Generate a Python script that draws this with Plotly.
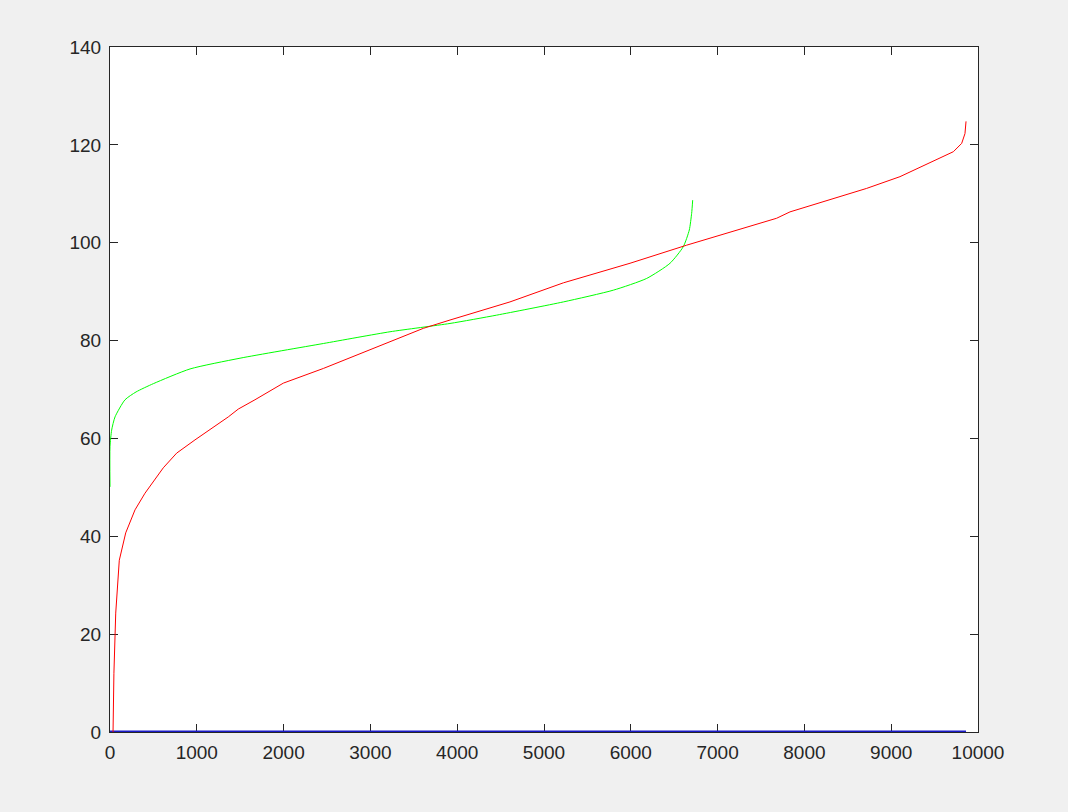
import plotly.graph_objects as go

# red series
RED_X = [35, 45, 66, 107, 181, 288, 403, 614, 768, 979, 1363, 1478, 1670, 1997,
         2458, 3034, 3610, 3917, 4608, 5223, 5991, 6644, 6797, 7181, 7680, 7834,
         8333, 8717, 9101, 9485, 9716, 9812, 9850, 9862]
RED_Y = [0, 12, 24.3, 35.1, 40.7, 45.4, 48.8, 54, 57, 59.7, 64.4, 66.0, 67.9, 71.3,
         74.3, 78.4, 82.5, 84.2, 87.9, 91.8, 95.8, 99.5, 100.3, 102.3, 105.0, 106.3,
         109.1, 111.1, 113.5, 116.6, 118.6, 120.3, 122.3, 124.8]

# green series
GREEN_X = [0, 0, 19, 58, 173, 300, 500, 922, 1498, 2458, 3226, 3917, 4455, 5223,
           5799, 6183, 6452, 6605, 6674, 6701, 6713]
GREEN_Y = [50.1, 58.3, 61.7, 64.4, 67.9, 69.5, 71.2, 74.2, 76.4, 79.4, 81.8, 83.5,
           85.2, 87.9, 90.3, 92.7, 95.8, 99.2, 102.6, 106, 108.7]

# blue baseline
BLUE_X = [0, 9862]
BLUE_Y = [0, 0]

X_TICKS = list(range(0, 10001, 1000))
X_LABELS = [str(v) for v in X_TICKS]
Y_TICKS = list(range(0, 141, 20))

AXIS = dict(
    showline=True, linecolor="#262626", linewidth=1, mirror="ticks",
    ticks="inside", ticklen=8, tickcolor="#262626",
    showgrid=False, zeroline=False, layer="below traces",
    tickfont=dict(family="Liberation Sans", size=19, color="#262626"),
)

fig = go.Figure()
fig.add_trace(go.Scatter(x=BLUE_X, y=BLUE_Y, mode="lines",
                         line=dict(color="#1a1ac8", width=3)))
fig.add_trace(go.Scatter(x=GREEN_X, y=GREEN_Y, mode="lines",
                         line=dict(color="#00ff00", width=1, shape="spline", smoothing=0.6)))
fig.add_trace(go.Scatter(x=RED_X, y=RED_Y, mode="lines",
                         line=dict(color="#ff0000", width=1)))

fig.update_layout(
    width=1068, height=812,
    paper_bgcolor="#f0f0f0", plot_bgcolor="#ffffff",
    showlegend=False,
    margin=dict(l=110, r=90, t=47, b=80),
    xaxis=dict(range=[0, 10000], tickvals=X_TICKS, ticktext=X_LABELS,
               ticklabelstandoff=3, **AXIS),
    yaxis=dict(range=[0, 140], tickvals=Y_TICKS, ticklabelstandoff=4, **AXIS),
)

fig.write_html("out.html", config={"displayModeBar": False},
               post_script="document.body.style.margin='0';")
